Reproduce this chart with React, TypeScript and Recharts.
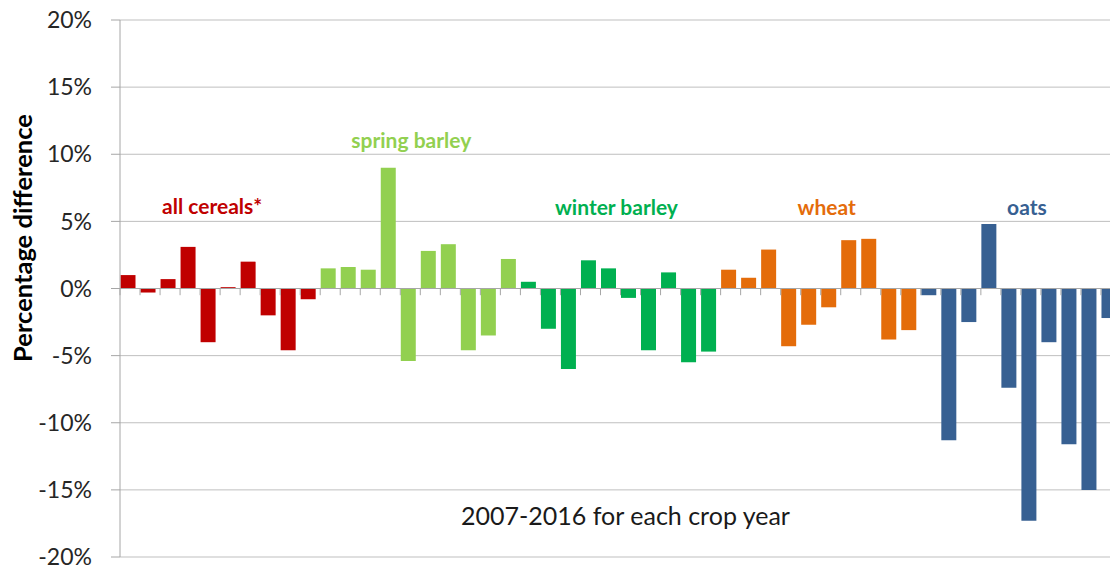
import { BarChart, Bar, XAxis, YAxis, CartesianGrid, ReferenceLine, ReferenceDot, Rectangle, Label } from "recharts"

const YEARS = ['2007', '2008', '2009', '2010', '2011', '2012', '2013', '2014', '2015', '2016'];
const CROPS = ['all cereals', 'spring barley', 'winter barley', 'wheat', 'oats'];

// percentage difference per crop year, 2007-2016
const ALL_CEREALS = [1.0, -0.3, 0.7, 3.1, -4.0, 0.1, 2.0, -2.0, -4.6, -0.8];
const SPRING_BARLEY = [1.5, 1.6, 1.4, 9.0, -5.4, 2.8, 3.3, -4.6, -3.5, 2.2];
const WINTER_BARLEY = [0.5, -3.0, -6.0, 2.1, 1.5, -0.7, -4.6, 1.2, -5.5, -4.7];
const WHEAT = [1.4, 0.8, 2.9, -4.3, -2.7, -1.4, 3.6, 3.7, -3.8, -3.1];
const OATS = [-0.5, -11.3, -2.5, 4.8, -7.4, -17.3, -4.0, -11.6, -15.0, -2.2];

const Y_TICKS = [-20, -15, -10, -5, 0, 5, 10, 15, 20];

const COLORS: Record<string, string> = {
  'all cereals': '#C00000',
  'spring barley': '#92D050',
  'winter barley': '#00B050',
  'wheat': '#E46C0A',
  'oats': '#376092',
};

// group labels, anchored on a category and a y value
const LABELS = [
  { text: 'all cereals*', crop: 'all cereals', at: 'all cereals 2011', y: 5.55, dx: 2 },
  { text: 'spring barley', crop: 'spring barley', at: 'spring barley 2011', y: 10.5, dx: 1 },
  { text: 'winter barley', crop: 'winter barley', at: 'winter barley 2011', y: 5.5, dx: 6 },
  { text: 'wheat', crop: 'wheat', at: 'wheat 2012', y: 5.5, dx: -4 },
  { text: 'oats', crop: 'oats', at: 'oats 2012', y: 5.45, dx: -4 },
];

const SERIES = [ALL_CEREALS, SPRING_BARLEY, WINTER_BARLEY, WHEAT, OATS];

const data = CROPS.flatMap((crop, i) =>
  YEARS.map((year, j) => ({ key: `${crop} ${year}`, crop, value: SERIES[i][j] }))
);

const GRID = '#BFBFBF';
const AXIS = '#A6A6A6';
const BAR_SIZE = 15;
const BAND = 20;

// Excel draws these bars against the left edge of each category
const BarShape = (props: any) => {
  const { x, y, width, height, payload } = props;
  return <Rectangle x={x - (BAND - BAR_SIZE) / 2} y={y} width={width} height={height} fill={COLORS[payload.crop]} />
}

// tick marks sit on the category boundaries
const TickShape = (props: any) => {
  const { x1, y1, x2, y2 } = props;
  return <line x1={x1 - BAND / 2} y1={y1} x2={x2 - BAND / 2} y2={y2} stroke={AXIS} strokeWidth={1} />
}

export default function App() {
  return (
    <div style={{ position: 'absolute', left: 0, top: 0, width: 1110, height: 570, overflow: 'hidden', background: '#fff', fontFamily: 'Lato, sans-serif' }}>
      <BarChart width={1125} height={570} data={data} margin={{ top: 20, right: 4, bottom: 13, left: 0 }} barSize={BAR_SIZE}>
        <CartesianGrid vertical={false} stroke={GRID} />
        <XAxis dataKey="key" hide />
        <YAxis
          width={120}
          domain={[-20, 20]}
          ticks={Y_TICKS}
          tickFormatter={(v) => `${v}%`}
          axisLine={{ stroke: AXIS }}
          tickLine={{ stroke: AXIS }}
          tickSize={9}
          tickMargin={19}
          tick={{ fill: '#262626', fontSize: 23 }}
        >
          <Label
            content={() => (
              <text x={32} y={238} transform="rotate(-90 32 238)" textAnchor="middle" fill="#000" fontSize={25.5} fontWeight={700}>
                Percentage difference
              </text>
            )}
          />
        </YAxis>
        <Bar dataKey="value" isAnimationActive={false} shape={BarShape} />
        <ReferenceLine y={0} stroke={AXIS} />
        {data.map((d) => (
          <ReferenceLine key={d.key} segment={[{ x: d.key, y: 0 }, { x: d.key, y: -0.5 }]} shape={TickShape} />
        ))}
        {LABELS.map((l) => (
          <ReferenceDot
            key={l.text}
            x={l.at}
            y={l.y}
            r={0}
            stroke="none"
            fill="none"
            label={{
              content: (p: any) => (
                <text x={p.viewBox.x + l.dx} y={p.viewBox.y} textAnchor="middle" fill={COLORS[l.crop]} fontSize={21} fontWeight={700}>
                  {l.text}
                </text>
              ),
            }}
          />
        ))}
        <ReferenceDot
          x="winter barley 2012"
          y={-17.6}
          r={0}
          stroke="none"
          fill="none"
          label={{
            content: (p: any) => (
              <text x={p.viewBox.x - 5} y={p.viewBox.y} textAnchor="middle" fill="#1a1a1a" fontSize={25}>
                2007-2016 for each crop year
              </text>
            ),
          }}
        />
      </BarChart>
    </div>
  )
}
